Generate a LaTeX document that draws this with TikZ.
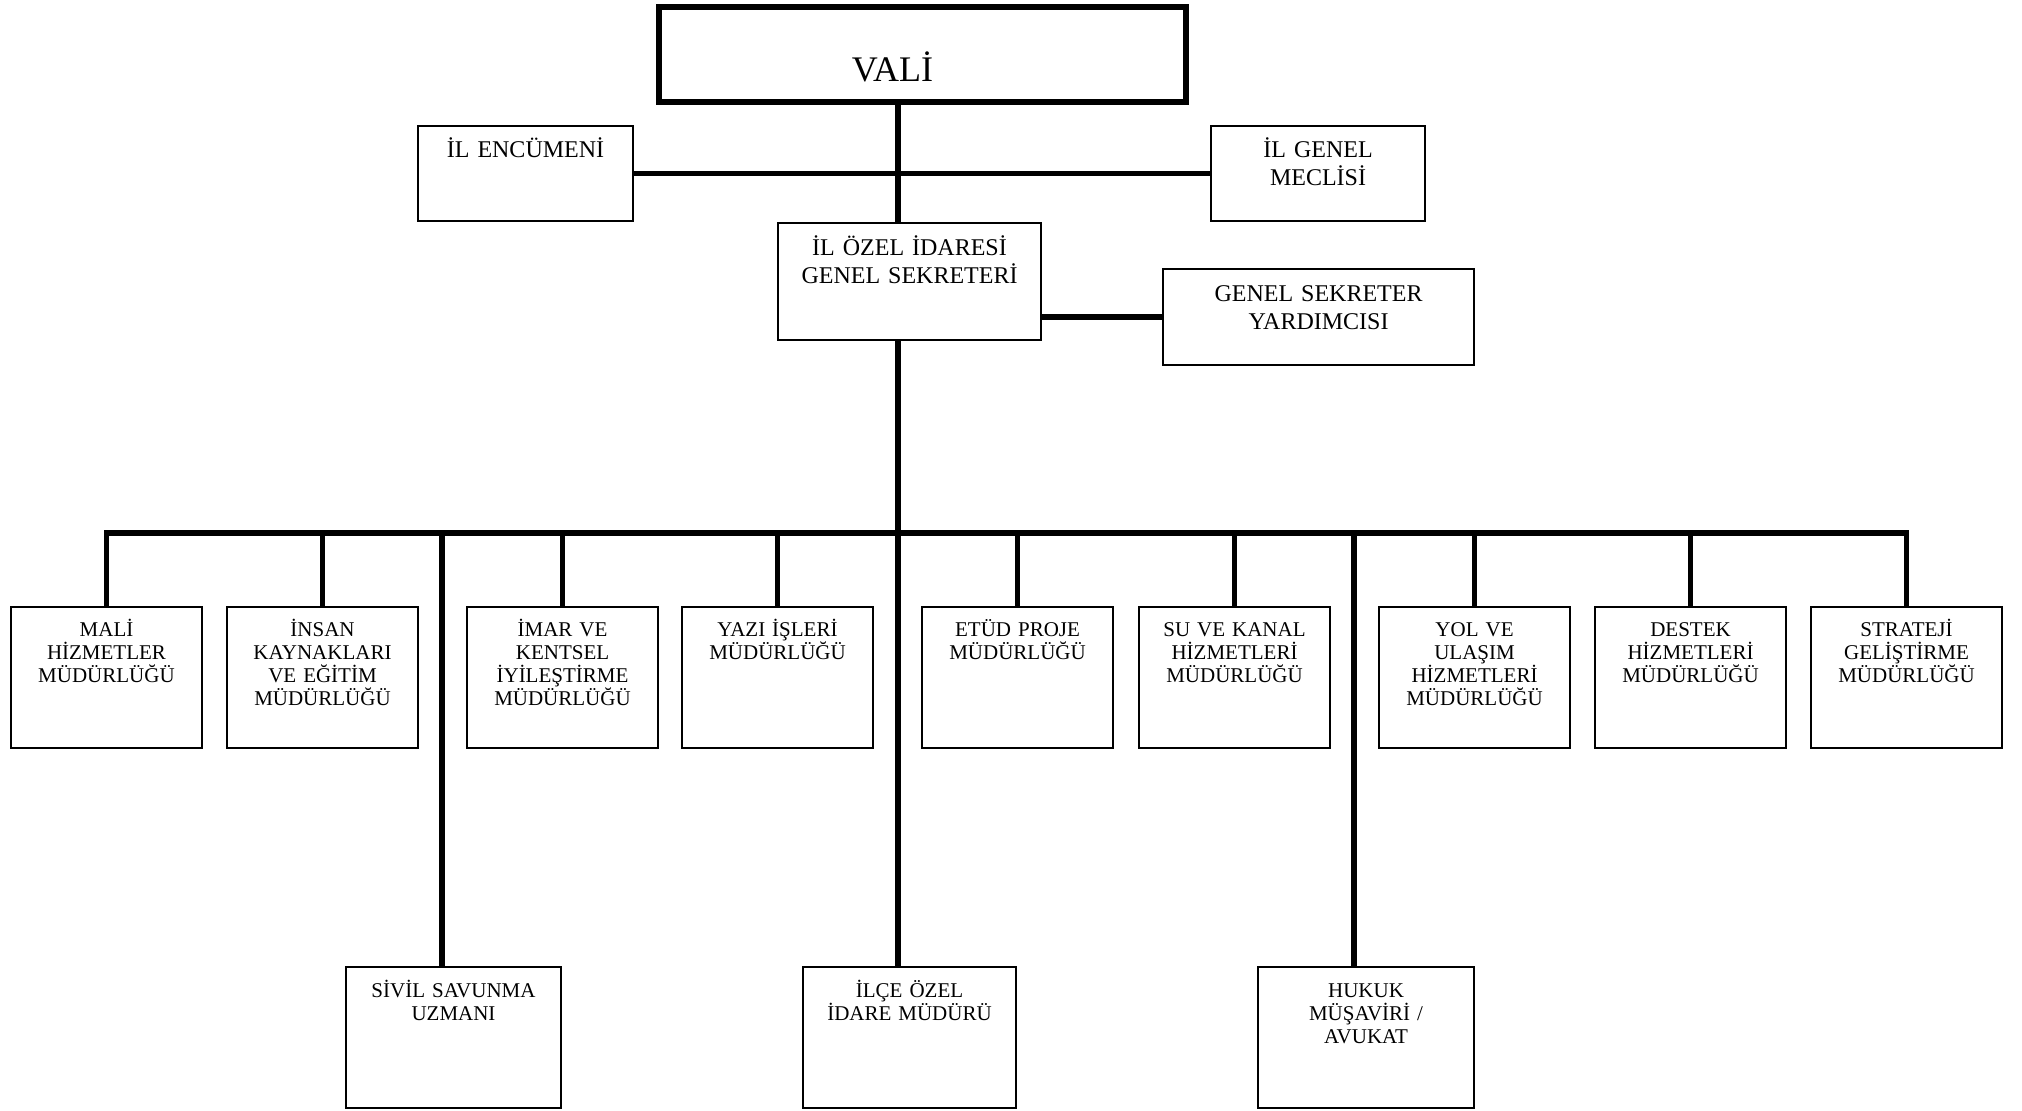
\documentclass[tikz,border=0pt]{standalone}
\usepackage{fontspec}
\setmainfont{Liberation Serif}
\begin{document}
\begin{tikzpicture}[x=0.5pt,y=-0.5pt,
  box/.style={draw=black,line width=1pt,fill=white,inner sep=0pt,outer sep=0pt},
  unit/.style={box,minimum width=95.5pt,minimum height=70.5pt},
  topbox/.style={box,minimum height=47.5pt},
  conn/.style={draw=black,line width=2.6pt},
  toptxt/.style={anchor=base,inner sep=0pt,align=center,text width=150pt,font=\fontsize{12}{14}\selectfont},
  lowtxt/.style={anchor=base,inner sep=0pt,align=center,text width=105pt,font=\fontsize{10.5}{11.5}\selectfont}
]
\useasboundingbox (0,0) rectangle (2022,1111);
% coordinates for trunk and bus
\coordinate (tr) at (898,533);
\coordinate (busy) at (0,533);
\coordinate (bSivil) at (442,533);
\coordinate (bHukuk) at (1354,533);

% boxes (positions first, drawn later on top)
\path
 (922.5,54.5) node[box,line width=2.75pt,minimum width=263.5pt,minimum height=47.5pt] (vali) {}
 (525.5,173.5) node[topbox,minimum width=107.5pt] (encumeni) {}
 (1318,173.5) node[topbox,minimum width=107pt] (meclis) {}
 (909.5,281.5) node[box,minimum width=131.5pt,minimum height=58.5pt] (ozel) {}
 (1318.5,317) node[box,minimum width=155.5pt,minimum height=48pt] (gsy) {}
 (106.5,677.5) node[unit] (mali) {}
 (322.5,677.5) node[unit] (insan) {}
 (562.5,677.5) node[unit] (imar) {}
 (777.5,677.5) node[unit] (yazi) {}
 (1017.5,677.5) node[unit] (etud) {}
 (1234.5,677.5) node[unit] (su) {}
 (1474.5,677.5) node[unit] (yol) {}
 (1690.5,677.5) node[unit] (destek) {}
 (1906.5,677.5) node[unit] (strateji) {}
 (453.5,1037.5) node[box,minimum width=107.5pt,minimum height=70.5pt] (sivil) {}
 (909.5,1037.5) node[box,minimum width=106.5pt,minimum height=70.5pt] (ilce) {}
 (1366,1037.5) node[box,minimum width=108pt,minimum height=70.5pt] (hukuk) {};

% connectors
\draw[conn] (vali.south -| tr) -- (ozel.north -| tr);
\draw[conn] (ozel.south -| tr) -- (ilce.north -| tr);
\draw[conn] (encumeni.east) -- (meclis.west);
\draw[conn] (ozel.east |- gsy.west) -- (gsy.west);
\draw[conn] (mali.north) -- (mali.north |- busy) -- (strateji.north |- busy) -- (strateji.north);
\foreach \n in {insan,imar,yazi,etud,su,yol,destek}
  \draw[conn] (\n.north) -- (\n.north |- busy);
\draw[conn] (bSivil) -- (bSivil |- sivil.north);
\draw[conn] (bHukuk) -- (bHukuk |- hukuk.north);

% redraw boxes on top
\foreach \n/\lw in {vali/2.75pt,encumeni/1pt,meclis/1pt,ozel/1pt,gsy/1pt,mali/1pt,insan/1pt,imar/1pt,yazi/1pt,etud/1pt,su/1pt,yol/1pt,destek/1pt,strateji/1pt,sivil/1pt,ilce/1pt,hukuk/1pt}
  \draw[line width=\lw,fill=white] (\n.south west) rectangle (\n.north east);
\draw[conn] (encumeni.east) -- (meclis.west);
\draw[conn] (ozel.east |- gsy.west) -- (gsy.west);

% texts
\node[anchor=base,inner sep=0pt,font=\fontsize{18}{21}\selectfont] (tvali) at (892.5,82) {VALİ};
\node[toptxt,text width=100pt] (tencumeni) at (525.5,158) {İL ENCÜMENİ};
\node[toptxt,text width=100pt] (tmeclis) at (1318,158) {İL GENEL\\MECLİSİ};
\node[toptxt,text width=125pt] (tozel) at (909.5,256) {İL ÖZEL İDARESİ\\GENEL SEKRETERİ};
\node[toptxt] (tgsy) at (1318.5,302) {GENEL SEKRETER\\YARDIMCISI};
\node[lowtxt,text width=90pt] (tmali) at (106.5,637) {MALİ\\HİZMETLER\\MÜDÜRLÜĞÜ};
\node[lowtxt,text width=90pt] (tinsan) at (322.5,637) {İNSAN\\KAYNAKLARI\\VE EĞİTİM\\MÜDÜRLÜĞÜ};
\node[lowtxt,text width=90pt] (timar) at (562.5,637) {İMAR VE\\KENTSEL\\İYİLEŞTİRME\\MÜDÜRLÜĞÜ};
\node[lowtxt,text width=90pt] (tyazi) at (777.5,637) {YAZI İŞLERİ\\MÜDÜRLÜĞÜ};
\node[lowtxt,text width=90pt] (tetud) at (1017.5,637) {ETÜD PROJE\\MÜDÜRLÜĞÜ};
\node[lowtxt,text width=90pt] (tsu) at (1234.5,637) {SU VE KANAL\\HİZMETLERİ\\MÜDÜRLÜĞÜ};
\node[lowtxt,text width=90pt] (tyol) at (1474.5,637) {YOL VE\\ULAŞIM\\HİZMETLERİ\\MÜDÜRLÜĞÜ};
\node[lowtxt,text width=90pt] (tdestek) at (1690.5,637) {DESTEK\\HİZMETLERİ\\MÜDÜRLÜĞÜ};
\node[lowtxt,text width=90pt] (tstrateji) at (1906.5,637) {STRATEJİ\\GELİŞTİRME\\MÜDÜRLÜĞÜ};
\node[lowtxt] (tsivil) at (453.5,997) {SİVİL SAVUNMA\\UZMANI};
\node[lowtxt] (tilce) at (909.5,997) {İLÇE ÖZEL\\İDARE MÜDÜRÜ};
\node[lowtxt] (thukuk) at (1366,997) {HUKUK\\MÜŞAVİRİ /\\AVUKAT};
\end{tikzpicture}
\end{document}
